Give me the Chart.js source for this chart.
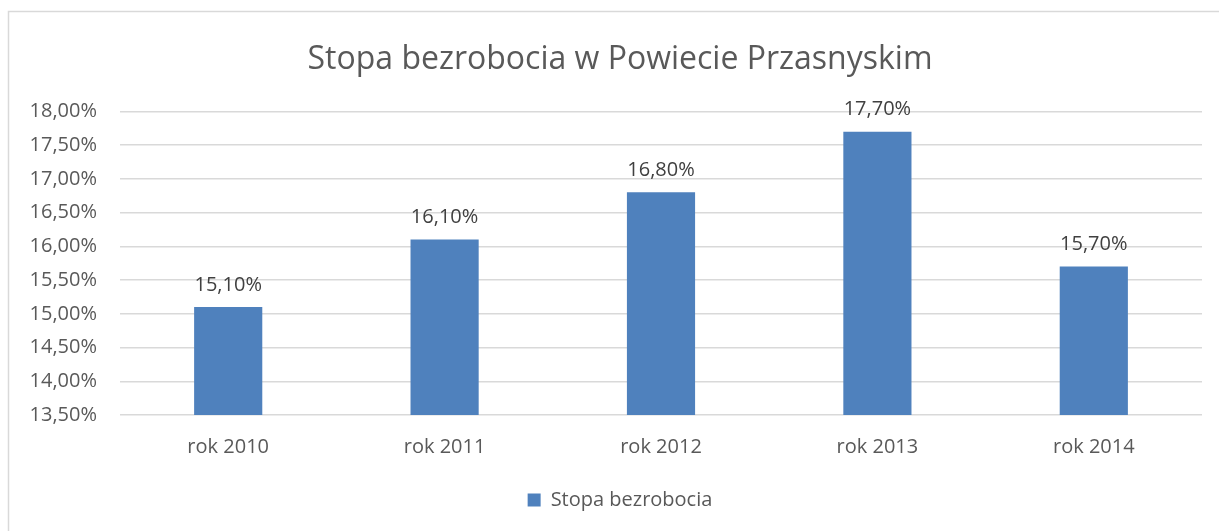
<!DOCTYPE html>
<html>
<head>
<meta charset="utf-8">
<script src="https://cdn.jsdelivr.net/npm/chart.js@4/dist/chart.umd.min.js"></script>
<style>
  html, body { margin: 0; padding: 0; background: #fff; }
  #wrap { width: 1219px; height: 531px; }
</style>
</head>
<body>
<div id="wrap"><canvas id="chart" width="1219" height="531"></canvas></div>
<script>
const years = ['rok 2010', 'rok 2011', 'rok 2012', 'rok 2013', 'rok 2014'];
const rates = [15.1, 16.1, 16.8, 17.7, 15.7];
const seriesName = 'Stopa bezrobocia';
const chartTitle = 'Stopa bezrobocia w Powiecie Przasnyskim';

function pct(v) {
    return v.toFixed(2).replace('.', ',') + '%';
}

// frame round the chart
const framePlugin = {
    id: 'frame',
    beforeDraw(chart) {
        let ctx = chart.ctx;
        ctx.save();
        ctx.strokeStyle = '#d9d9d9';
        ctx.lineWidth = 1.5;
        ctx.strokeRect(8.5, 11.5, 1240, 560);
        ctx.restore();
    }
};

// numbers above the bars
const labelPlugin = {
    id: 'barLabels',
    afterDatasetsDraw(chart) {
        let ctx = chart.ctx;
        let meta = chart.getDatasetMeta(0);
        ctx.save();
        ctx.font = '20px "Open Sans"';
        ctx.fillStyle = '#404040';
        ctx.textAlign = 'center';
        ctx.textBaseline = 'middle';
        meta.data.forEach((bar, i) => {
            ctx.fillText(pct(rates[i]), bar.x, bar.y - 22);
        });
        ctx.restore();
    }
};

let ctx = document.querySelector('#chart').getContext('2d');
let myChart = new Chart(ctx, {
    type: 'bar',
    data: {
        labels: years,
        datasets: [{
            label: seriesName,
            data: rates,
            backgroundColor: '#4f81bd',
            borderWidth: 0,
            categoryPercentage: 1,
            barPercentage: 0.315
        }]
    },
    options: {
        responsive: false,
        animation: false,
        events: [],
        layout: {
            // left padding keeps title and legend centred like the original
            padding: { left: 38, right: 17, top: 0, bottom: 11 }
        },
        plugins: {
            title: {
                display: true,
                text: chartTitle,
                color: '#595959',
                font: { family: 'Open Sans', size: 32, weight: 'normal' },
                padding: { top: 41, bottom: 32 }
            },
            legend: {
                position: 'bottom',
                labels: {
                    color: '#595959',
                    font: { family: 'Open Sans', size: 20 },
                    boxWidth: 13,
                    boxHeight: 13,
                    padding: 10
                }
            },
            tooltip: { enabled: false }
        },
        scales: {
            x: {
                grid: { display: false },
                border: { display: false },
                ticks: {
                    color: '#595959',
                    font: { family: 'Open Sans', size: 20 },
                    padding: 12
                },
                afterFit(scale) { scale.height = 65; }
            },
            y: {
                min: 13.5,
                max: 18,
                grid: { color: '#d9d9d9', lineWidth: 1.5, drawTicks: false },
                border: { display: false },
                ticks: {
                    stepSize: 0.5,
                    color: '#595959',
                    font: { family: 'Open Sans', size: 20 },
                    padding: 23,
                    callback: (v) => pct(v)
                },
                afterFit(scale) { scale.width = 82; },
                // labels stick out left of the axis box, so don't clip them
                afterUpdate(scale) { scale._computeLabelArea = () => undefined; }
            }
        }
    },
    plugins: [framePlugin, labelPlugin]
});
</script>
</body>
</html>
